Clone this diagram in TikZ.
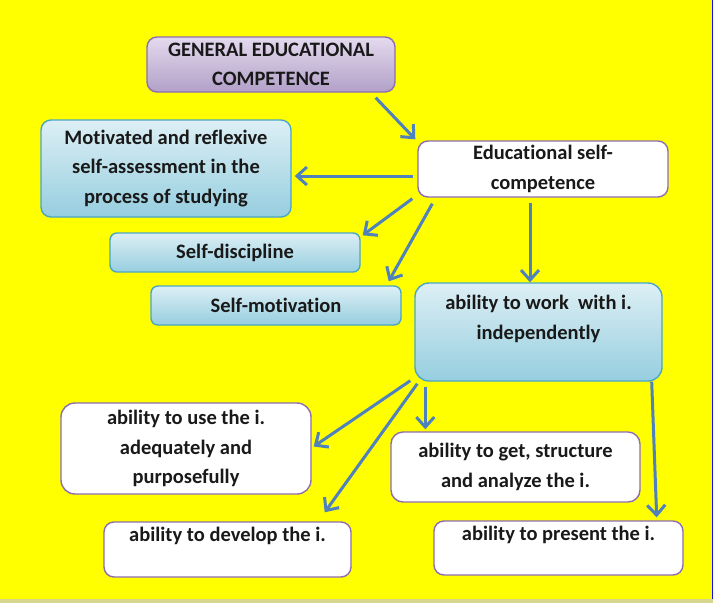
\documentclass[tikz,border=0pt]{standalone}
\usepackage{fontspec}
\setmainfont{Carlito}[Ligatures=NoCommon]
\usetikzlibrary{arrows.meta,calc}
\definecolor{bg}{HTML}{FFFF00}
\definecolor{bluetop}{HTML}{DDEFF5}
\definecolor{bluebot}{HTML}{96CEDF}
\definecolor{bluebd}{HTML}{4BA6C6}
\definecolor{purtop}{HTML}{E4DAEE}
\definecolor{purbot}{HTML}{B2A0C8}
\definecolor{purbd}{HTML}{8E6DB0}
\definecolor{arrowc}{HTML}{4F81BD}
\definecolor{edgeblue}{HTML}{1010F0}
\definecolor{bottomstrip}{HTML}{D6D68E}
\begin{document}
\begin{tikzpicture}[x=1pt,y=-1pt,
  font=\bfseries\fontsize{20.5}{29.5}\selectfont,
  base/.style={rounded corners=10pt, align=center, inner sep=0pt, line width=1.4pt, text=black!90},
  bluebox/.style={base, draw=bluebd, top color=bluetop, bottom color=bluebot},
  whitebox/.style={base, draw=purbd, fill=white},
  purplebox/.style={base, draw=purbd, top color=purtop, bottom color=purbot},
  arr/.style={draw=arrowc, line width=3pt, -{Straight Barb[length=10pt,width=18pt]}}]
\fill[bg] (0,0) rectangle (713,603);
\useasboundingbox (0,0) rectangle (713,603);
\fill[bottomstrip] (0,599) rectangle (713,603);
\draw[edgeblue, line width=1.5pt] (712.25,0) -- (712.25,599);

\node[purplebox, minimum width=248pt, minimum height=55pt] (gec) at (271,64.5) {GENERAL EDUCATIONAL\\COMPETENCE};
\node[bluebox, minimum width=250pt, minimum height=97pt] (mot) at (166,168.5) {Motivated and reflexive\\self-assessment in the\\process of studying};
\node[whitebox, minimum width=250pt, minimum height=56pt] (esc) at (543,169) {Educational self-\\competence};
\node[bluebox, rounded corners=7pt, minimum width=250pt, minimum height=39pt] (sd) at (235,252.5) {Self-discipline};
\node[bluebox, rounded corners=7pt, minimum width=250pt, minimum height=39pt] (sm) at (276,305.5) {Self-motivation};
\node[bluebox, rounded corners=14pt, minimum width=247pt, minimum height=98pt] (work) at (538.5,332) {ability to work\ \ with i.\\independently\\\mbox{}};
\node[whitebox, rounded corners=14pt, minimum width=250pt, minimum height=91pt] (use) at (186,448.5) {ability to use the i.\\adequately and\\purposefully};
\node[whitebox, rounded corners=12pt, minimum width=249pt, minimum height=70pt] (get) at (515.5,467) {ability to get, structure\\and analyze the i.};
\node[whitebox, rounded corners=10pt, minimum width=247pt, minimum height=55pt] (dev) at (227.5,549.5) {ability to develop the i.\\\mbox{}};
\node[whitebox, rounded corners=10pt, minimum width=249pt, minimum height=54pt] (pres) at (558.5,548) {ability to present the i.\\\mbox{}};

\draw[arr] ([shift={(-20,5)}]gec.south east) -- ([shift={(-2,-1)}]esc.north west);
\draw[arr] ([shift={(-4,7)}]esc.west) -- ([shift={(3,7.5)}]mot.east);
\draw[arr] ([shift={(-5,1)}]esc.south west) -- ([shift={(2,3)}]sd.north east);
\draw[arr] ([shift={(15,6)}]esc.south west) -- ([shift={(-13,-4)}]sm.north east);
\draw[arr] ([shift={(-13,5)}]esc.south) -- ([shift={(-8.5,0)}]work.north);
\draw[arr] ([shift={(-4,-1)}]work.south west) -- ([shift={(2,-2)}]use.east);
\draw[arr] ([shift={(3,2)}]work.south west) -- ([shift={(-27,-9)}]dev.north east);
\draw[arr] ([shift={(11,5)}]work.south west) -- ([shift={(35,-2)}]get.north west);
\draw[arr] ([shift={(-11,0)}]work.south east) -- ([shift={(-27,-3)}]pres.north east);
\end{tikzpicture}
\end{document}
